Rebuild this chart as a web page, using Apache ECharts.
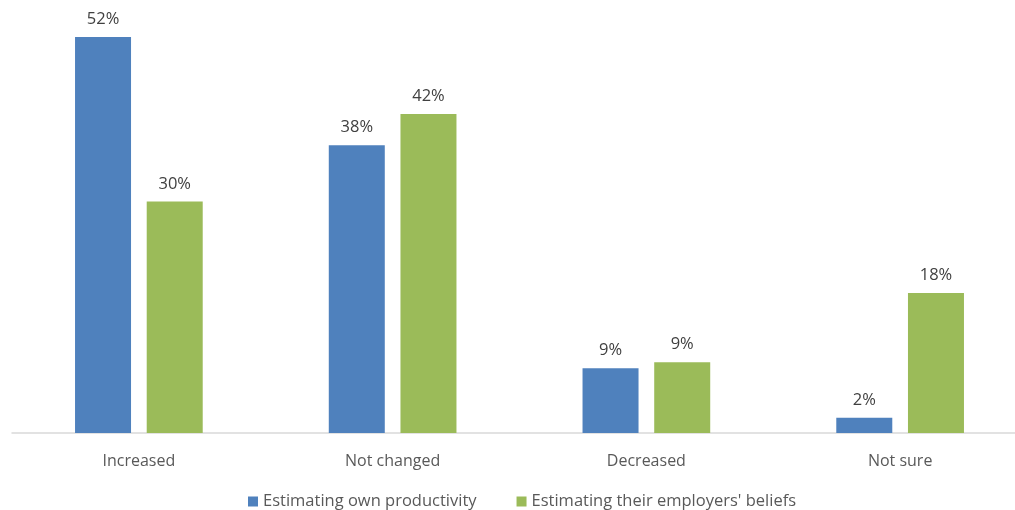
<!DOCTYPE html>
<html>
<head>
<meta charset="utf-8">
<script src="https://cdn.jsdelivr.net/npm/echarts@6/dist/echarts.min.js"></script>
<style>
  html, body { margin: 0; padding: 0; background: #fff; }
  #main { width: 1015px; height: 510px; }
</style>
</head>
<body>
<div id="main"></div>
<script>
  var categories = ['Increased', 'Not changed', 'Decreased', 'Not sure']
  var ownProductivity = [52, 37.8, 8.5, 2.0]
  var employerBeliefs = [30.4, 41.9, 9.3, 18.4]
  var seriesNames = ['Estimating own productivity', "Estimating their employers' beliefs"]

  var myChart = echarts.init(document.getElementById('main'))
  var font = 'Open Sans'

  var labelOpt = {
    show: true,
    position: 'top',
    distance: 9,
    color: '#404040',
    fontFamily: font,
    fontSize: 16.5,
    formatter: function (p) {
      return Math.round(p.value) + '%'
    },
  }

  var option = {
    animation: false,
    textStyle: { fontFamily: font },
    color: ['#4F81BD', '#9BBB59'],
    grid: {
      left: 12,
      right: -12,
      top: 37,
      bottom: 77,
      containLabel: false,
      outerBoundsMode: 'none',
    },
    legend: {
      top: 488,
      left: 243,
      itemWidth: 10,
      itemHeight: 10,
      itemGap: 40,
      icon: 'rect',
      textStyle: { color: '#595959', fontSize: 16.5, fontFamily: font },
      data: seriesNames,
    },
    xAxis: {
      type: 'category',
      data: categories,
      axisLine: { lineStyle: { color: '#D9D9D9', width: 1.5 } },
      axisTick: { show: false },
      axisLabel: { color: '#595959', fontSize: 16, margin: 20, fontFamily: font },
    },
    yAxis: {
      type: 'value',
      min: 0,
      max: 52,
      show: false,
      splitLine: { show: false },
    },
    series: [
      {
        name: seriesNames[0],
        type: 'bar',
        barWidth: 56,
        barGap: '28%',
        data: ownProductivity,
        label: labelOpt,
      },
      {
        name: seriesNames[1],
        type: 'bar',
        barWidth: 56,
        data: employerBeliefs,
        label: labelOpt,
      },
    ],
  }
  myChart.setOption(option)
</script>
</body>
</html>
